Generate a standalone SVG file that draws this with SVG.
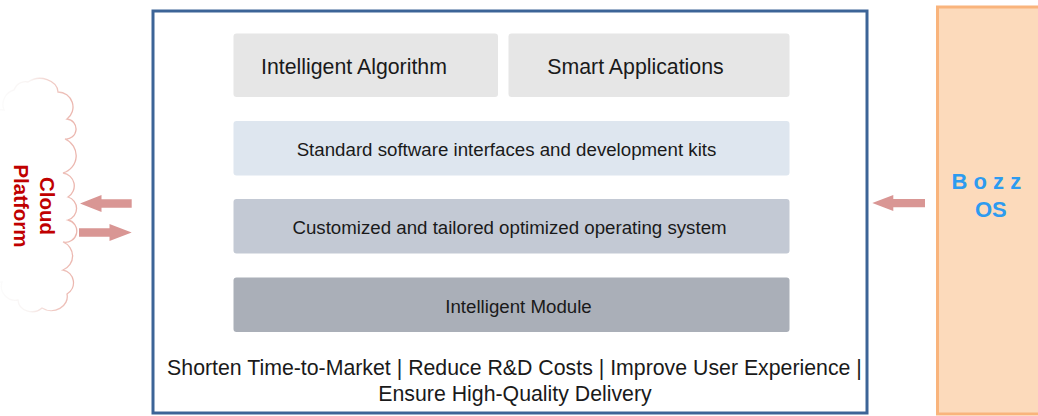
<svg xmlns="http://www.w3.org/2000/svg" width="1038" height="416" viewBox="0 0 1038 416">
<style>
.lbl{font-family:"Liberation Sans",Arial,sans-serif;fill:#1a1a1a;text-anchor:middle}
.big{font-size:21.3px}
.mid{font-size:18.7px}
.arrow{fill:#d99694}
.bozz{font-family:"Liberation Sans",Arial,sans-serif;font-weight:bold;font-size:22px;fill:#2d9bf0}
.cloudtxt{font-family:"Liberation Sans",Arial,sans-serif;font-weight:bold;font-size:20.5px;fill:#c00000;text-anchor:middle}
</style>
<defs>
<linearGradient id="cg" gradientUnits="userSpaceOnUse" x1="0" y1="0" x2="75" y2="0">
<stop offset="0" stop-color="#fbfbfb"/>
<stop offset="0.4" stop-color="#f8f3f2"/>
<stop offset="0.7" stop-color="#f0cbc5"/>
<stop offset="1" stop-color="#ebb5ad"/>
</linearGradient>
</defs>
<rect width="1038" height="416" fill="#ffffff"/>

<g id="cloud">
<path d="M28,82 A18,14 0 0 1 58,92 A15,15 0 0 1 67,119 A10,10 0 0 1 65,139 A18,18 0 0 1 63,173 A13,13 0 0 1 68,197 A12,12 0 0 1 68,220 A11,11 0 0 1 63,242 A15,15 0 0 1 63,270 A13,13 0 0 1 67,294 A16,14 0 0 1 42,308 A14,12 0 0 1 18,300 A14,14 0 0 1 2,282 A16,16 0 0 1 -2,250 A22,22 0 0 1 -4,200 A22,22 0 0 1 -2,150 A18,18 0 0 1 4,110 A15,15 0 0 1 14,90 A12,12 0 0 1 28,82 Z" fill="#ffffff" stroke="url(#cg)" stroke-width="1.3"/>
<text class="cloudtxt" transform="translate(40,206) rotate(90)">Cloud</text>
<text class="cloudtxt" transform="translate(14,206) rotate(90)">Platform</text>
</g>

<g id="frame">
<rect x="153" y="11" width="714" height="402" fill="#ffffff" stroke="#3c6497" stroke-width="3"/>
<text class="lbl big" x="514.5" y="375">Shorten Time-to-Market | Reduce R&amp;D Costs | Improve User Experience |</text>
<text class="lbl big" x="515" y="401">Ensure High-Quality Delivery</text>
</g>

<g id="intelligent-algorithm">
<rect x="233.5" y="33.5" width="264.5" height="63.5" rx="3" fill="#e6e6e6"/>
<text class="lbl big" x="354" y="73.5">Intelligent Algorithm</text>
</g>
<g id="smart-applications">
<rect x="508.5" y="33.5" width="281" height="63.5" rx="3" fill="#e6e6e6"/>
<text class="lbl big" x="635.5" y="73.5">Smart Applications</text>
</g>
<g id="standard-interfaces">
<rect x="233.5" y="121" width="556" height="54.5" rx="3" fill="#dee6ef"/>
<text class="lbl mid" x="506.5" y="156">Standard software interfaces and development kits</text>
</g>
<g id="custom-os">
<rect x="233.5" y="199" width="556" height="54.5" rx="3" fill="#c3c9d4"/>
<text class="lbl mid" x="509.5" y="234">Customized and tailored optimized operating system</text>
</g>
<g id="intelligent-module">
<rect x="233.5" y="277.5" width="556" height="54.5" rx="3" fill="#aaafb8"/>
<text class="lbl mid" x="518.5" y="312.7">Intelligent Module</text>
</g>

<g id="bozz-os">
<rect x="937.5" y="7" width="110" height="407" fill="#fcdabb" stroke="#f9b47c" stroke-width="3"/>
<text class="bozz" x="951.5" y="188.5">B o z z</text>
<text class="bozz" x="975" y="217">OS</text>
</g>

<g id="connectors">
<polygon class="arrow" points="80,203.5 101.5,195 101.5,199.3 131.7,199.3 131.7,207.7 101.5,207.7 101.5,212"/>
<polygon class="arrow" points="131.7,232.5 109.5,224 109.5,228.3 79,228.3 79,236.7 109.5,236.7 109.5,241"/>
<polygon class="arrow" points="872.3,203 893.3,195 893.3,199 925,199 925,207.3 893.3,207.3 893.3,211"/>
</g>
</svg>
